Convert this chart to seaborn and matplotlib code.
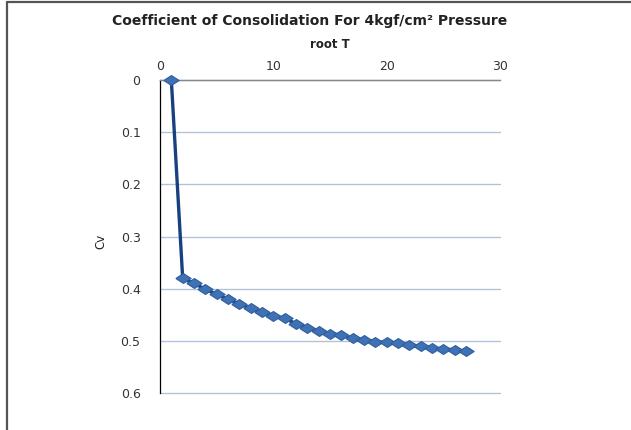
import matplotlib
matplotlib.use("Agg")
import matplotlib.pyplot as plt
import seaborn as sns
import pandas as pd
from matplotlib.lines import Line2D

# ---- data ----
root_t = [1, 2, 3, 4, 5, 6, 7, 8, 9, 10, 11, 12, 13, 14, 15, 16, 17, 18, 19,
          20, 21, 22, 23, 24, 25, 26, 27]
cv = [0.0, 0.380, 0.390, 0.401, 0.411, 0.420, 0.429, 0.438, 0.445, 0.452,
      0.457, 0.467, 0.475, 0.481, 0.486, 0.489, 0.495, 0.498, 0.502, 0.503,
      0.505, 0.508, 0.510, 0.513, 0.516, 0.517, 0.520]
x_ticks = [0, 10, 20, 30]
y_ticks = [0, 0.1, 0.2, 0.3, 0.4, 0.5, 0.6]
y_tick_labels = ["0", "0.1", "0.2", "0.3", "0.4", "0.5", "0.6"]
title = "Coefficient of Consolidation For 4kgf/cm² Pressure"
x_label = "root T"
y_label = "Cv"

df = pd.DataFrame({"root T": root_t, "Cv": cv})

sns.set_theme(style="white")
plt.rcParams['font.family'] = ['DejaVu Sans']

W, H = 631, 430
fig = plt.figure(figsize=(W / 100, H / 100), dpi=100)
ax = fig.add_axes([160 / W, 1 - 393 / H, 340 / W, 313 / H])

diamond = [(-1, 0), (0, 0.65), (1, 0), (0, -0.65), (-1, 0)]

sns.lineplot(data=df, x="root T", y="Cv", ax=ax, color="#17427f",
             linewidth=2.4, marker=diamond, markersize=11,
             markerfacecolor="#3f72b4", markeredgecolor="#2f5e9e",
             markeredgewidth=0.8, zorder=3, clip_on=False)

ax.set_xlim(0, 30)
ax.set_ylim(0.6, 0)
ax.set_xticks(x_ticks)
ax.set_yticks(y_ticks)
ax.set_yticklabels(y_tick_labels)
ax.xaxis.tick_top()
ax.xaxis.set_label_position("top")
ax.tick_params(axis="both", length=0, labelsize=9, colors="#333333")
ax.tick_params(axis="y", pad=14)
ax.tick_params(axis="x", pad=5)

ax.grid(axis="y", color="#b4c2d8", linewidth=1.0)
ax.grid(axis="x", visible=False)
for gl in ax.get_ygridlines():
    gl.set_clip_on(False)
for s in ["right", "bottom"]:
    ax.spines[s].set_visible(False)
ax.spines["left"].set_color("#000000")
ax.spines["left"].set_linewidth(0.9)
ax.spines["top"].set_color("#888888")
ax.spines["top"].set_linewidth(1.0)

ax.set_xlabel("")
ax.set_ylabel("")
fig.text(330 / W, 1 - 45 / H, x_label, ha="center", va="center",
         fontsize=8.5, fontweight="bold", color="#222222")
fig.text(101 / W, 1 - 241 / H, y_label, ha="center", va="center",
         fontsize=8.5, rotation=90, color="#222222")
fig.text(310 / W, 1 - 21 / H, title, ha="center", va="center",
         fontsize=10, fontweight="bold", color="#222222")

# outer frame lines (left and top)
fig.add_artist(Line2D([7 / W, 7 / W], [0, 1 - 2 / H], transform=fig.transFigure,
                      color="#555555", linewidth=1.6))
fig.add_artist(Line2D([7 / W, 1], [1 - 2 / H, 1 - 2 / H], transform=fig.transFigure,
                      color="#555555", linewidth=1.6))

fig.savefig("out.png", dpi=100)
